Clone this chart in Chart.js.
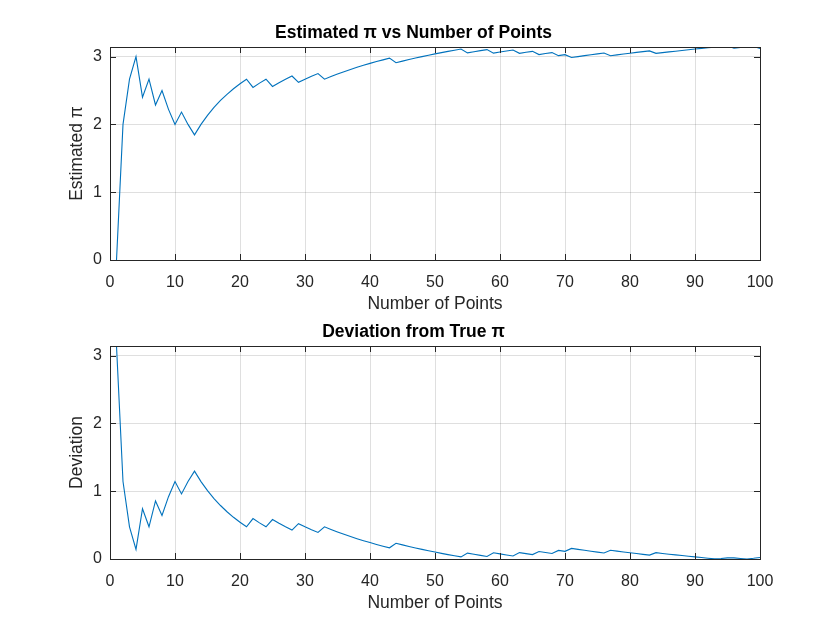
<!DOCTYPE html>
<html>
<head>
<meta charset="utf-8">
<script src="https://cdn.jsdelivr.net/npm/chart.js@4.4.1/dist/chart.umd.min.js"></script>
<style>
  html, body { margin: 0; padding: 0; background: #fff; }
  #fig { position: relative; width: 840px; height: 630px; overflow: hidden; }
  .panel { position: absolute; left: 0; width: 840px; height: 315px; }
</style>
</head>
<body>
<div id="fig">
  <div class="panel" style="top:0"><canvas id="est-chart"></canvas></div>
  <div class="panel" style="top:299px"><canvas id="dev-chart"></canvas></div>
</div>
<script>
// number of random points used for each estimate
const nPoints = [
  1, 2, 3, 4, 5, 6, 7, 8, 9, 10, 11, 12, 13, 14, 15, 16, 17, 18, 19, 20,
  21, 22, 23, 24, 25, 26, 27, 28, 29, 30, 31, 32, 33, 34, 35, 36, 37, 38, 39, 40,
  41, 42, 43, 44, 45, 46, 47, 48, 49, 50, 51, 52, 53, 54, 55, 56, 57, 58, 59, 60,
  61, 62, 63, 64, 65, 66, 67, 68, 69, 70, 71, 72, 73, 74, 75, 76, 77, 78, 79, 80,
  81, 82, 83, 84, 85, 86, 87, 88, 89, 90, 91, 92, 93, 94, 95, 96, 97, 98, 99, 100
];

// estimated pi
const estPi = [
  0, 2, 2.667, 3, 2.4, 2.667, 2.286, 2.5, 2.222, 2,
  2.182, 2, 1.846, 2, 2.133, 2.25, 2.353, 2.444, 2.526, 2.6,
  2.667, 2.545, 2.609, 2.667, 2.56, 2.615, 2.667, 2.714, 2.621, 2.667,
  2.71, 2.75, 2.667, 2.706, 2.743, 2.778, 2.811, 2.842, 2.872, 2.9,
  2.927, 2.952, 2.977, 2.909, 2.933, 2.957, 2.979, 3, 3.02, 3.04,
  3.059, 3.077, 3.094, 3.111, 3.055, 3.071, 3.088, 3.103, 3.051, 3.067,
  3.082, 3.097, 3.048, 3.063, 3.077, 3.03, 3.045, 3.059, 3.014, 3.029,
  2.986, 3, 3.014, 3.027, 3.04, 3.053, 3.013, 3.026, 3.038, 3.05,
  3.062, 3.073, 3.084, 3.048, 3.059, 3.07, 3.08, 3.091, 3.101, 3.111,
  3.121, 3.13, 3.14, 3.149, 3.158, 3.125, 3.134, 3.143, 3.152, 3.12
];

// deviation from true pi
const deviation = [
  3.142, 1.142, 0.475, 0.142, 0.742, 0.475, 0.856, 0.642, 0.919, 1.142,
  0.96, 1.142, 1.296, 1.142, 1.008, 0.892, 0.789, 0.697, 0.615, 0.542,
  0.475, 0.596, 0.533, 0.475, 0.582, 0.526, 0.475, 0.427, 0.521, 0.475,
  0.432, 0.392, 0.475, 0.436, 0.399, 0.364, 0.331, 0.3, 0.27, 0.242,
  0.215, 0.189, 0.165, 0.232, 0.208, 0.185, 0.163, 0.142, 0.121, 0.102,
  0.083, 0.065, 0.047, 0.031, 0.087, 0.07, 0.054, 0.038, 0.091, 0.075,
  0.059, 0.045, 0.094, 0.079, 0.065, 0.111, 0.097, 0.082, 0.127, 0.113,
  0.156, 0.142, 0.128, 0.114, 0.102, 0.089, 0.128, 0.116, 0.103, 0.092,
  0.08, 0.068, 0.057, 0.094, 0.082, 0.071, 0.061, 0.051, 0.041, 0.031,
  0.021, 0.011, 0.002, 0.007, 0.016, 0.017, 0.008, 0.001, 0.01, 0.022
];

const xTicks = [0, 10, 20, 30, 40, 50, 60, 70, 80, 90, 100];
const yTicks = [0, 1, 2, 3];

const FONT = "'Liberation Sans', Arial, Helvetica, sans-serif";
const AXIS_COLOR = "#262626";
const LINE_COLOR = "#0072BD";

// draws the closed box and the short inward tick marks, like a matlab axes
const axesBox = {
  id: "axesBox",
  afterDraw(chart) {
    const { ctx, chartArea: a, scales } = chart;
    const len = 6;
    ctx.save();
    ctx.strokeStyle = AXIS_COLOR;
    ctx.lineWidth = 1;
    ctx.beginPath();
    scales.x.ticks.forEach((t) => {
      const px = Math.round(scales.x.getPixelForValue(t.value)) + 0.5;
      ctx.moveTo(px, a.bottom);
      ctx.lineTo(px, a.bottom - len);
      ctx.moveTo(px, a.top);
      ctx.lineTo(px, a.top + len);
    });
    scales.y.ticks.forEach((t) => {
      const py = Math.round(scales.y.getPixelForValue(t.value)) + 0.5;
      ctx.moveTo(a.left, py);
      ctx.lineTo(a.left + len, py);
      ctx.moveTo(a.right, py);
      ctx.lineTo(a.right - len, py);
    });
    ctx.stroke();
    ctx.strokeRect(
      Math.round(a.left) + 0.5,
      Math.round(a.top) + 0.5,
      Math.round(a.right - a.left),
      Math.round(a.bottom - a.top)
    );
    ctx.restore();
  },
};

function makeChart(canvasId, values, title, yLabel) {
  const canvas = document.getElementById(canvasId);
  return new Chart(canvas, {
    type: "line",
    data: {
      datasets: [
        {
          data: nPoints.map((n, i) => ({ x: n, y: values[i] })),
          borderColor: LINE_COLOR,
          borderWidth: 1.1,
          pointRadius: 0,
          tension: 0,
          fill: false,
        },
      ],
    },
    options: {
      responsive: true,
      maintainAspectRatio: false,
      animation: false,
      layout: {
        padding: { left: 67, right: 80, top: 0, bottom: 0 },
      },
      scales: {
        x: {
          type: "linear",
          min: 0,
          max: 100,
          afterBuildTicks: (scale) => {
            scale.ticks = xTicks.map((v) => ({ value: v }));
          },
          afterFit: (scale) => {
            scale.height = 55;
          },
          grid: {
            color: "rgba(38,38,38,0.15)",
            drawTicks: false,
          },
          border: { display: false },
          ticks: {
            color: AXIS_COLOR,
            font: { family: FONT, size: 16 },
            padding: 13,
            maxRotation: 0,
          },
          title: {
            display: true,
            text: "Number of Points",
            color: AXIS_COLOR,
            font: { family: FONT, size: 17.5 },
            padding: { top: 0, bottom: 0 },
          },
        },
        y: {
          min: 0,
          max: Math.PI,
          afterBuildTicks: (scale) => {
            scale.ticks = yTicks.map((v) => ({ value: v }));
          },
          afterFit: (scale) => {
            scale.width = 43;
          },
          grid: {
            color: "rgba(38,38,38,0.15)",
            drawTicks: false,
          },
          border: { display: false },
          ticks: {
            color: AXIS_COLOR,
            font: { family: FONT, size: 16 },
            padding: 8,
          },
          title: {
            display: true,
            text: yLabel,
            color: AXIS_COLOR,
            font: { family: FONT, size: 17.5 },
            padding: { top: 0, bottom: 0 },
          },
        },
      },
      plugins: {
        legend: { display: false },
        tooltip: { enabled: false },
        title: {
          display: true,
          text: title,
          color: "#000",
          font: { family: FONT, size: 17.5, weight: "bold" },
          padding: { top: 23, bottom: 3 },
        },
      },
    },
    plugins: [axesBox],
  });
}

makeChart("est-chart", estPi, "Estimated π vs Number of Points", "Estimated π");
makeChart("dev-chart", deviation, "Deviation from True π", "Deviation");
</script>
</body>
</html>
